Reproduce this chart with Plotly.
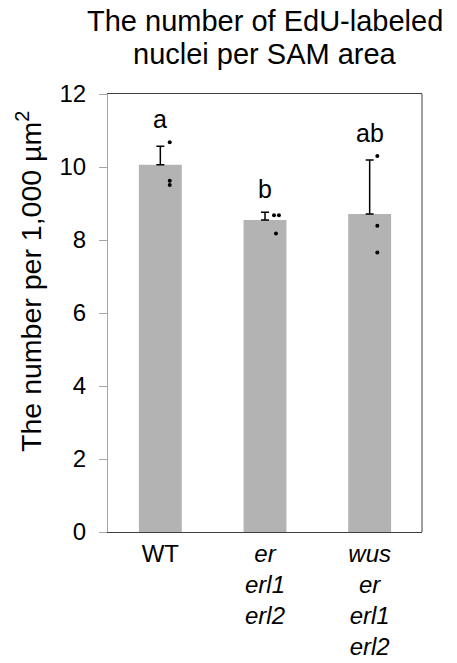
import plotly.graph_objects as go

categories = ["WT", "<i>er<br>erl1<br>erl2</i>", "<i>wus<br>er<br>erl1<br>erl2</i>"]
means = [10.06, 8.55, 8.71]
sd_upper = [0.51, 0.21, 1.48]
letters = ["a", "b", "ab"]
letter_y = [11.31, 9.39, 10.93]
dots = [[10.68, 9.62, 9.51], [8.68, 8.68, 8.18], [10.30, 8.39, 7.66]]
dot_jitter = [[0.09, 0.09, 0.09], [0.086, 0.133, 0.105], [0.073, 0.073, 0.073]]
yticks = [0, 2, 4, 6, 8, 10, 12]
title_lines = ["The number of EdU-labeled", "nuclei per SAM area"]
ytitle = "The number per 1,000 µm<sup>2</sup>"

FONT = "Liberation Sans, Arial, sans-serif"
xs = list(range(len(categories)))

fig = go.Figure()
fig.add_trace(go.Bar(
    x=xs, y=means, width=0.41, marker=dict(color="#b3b3b3", line=dict(width=0)),
    error_y=dict(type="data", symmetric=False, array=sd_upper,
                 arrayminus=[0] * len(means), color="#000000", thickness=1.5, width=4),
    showlegend=False, hoverinfo="skip"))

dx, dy = [], []
for i, (vals, jit) in enumerate(zip(dots, dot_jitter)):
    for v, j in zip(vals, jit):
        dx.append(i + j)
        dy.append(v)
fig.add_trace(go.Scatter(x=dx, y=dy, mode="markers",
                         marker=dict(color="#000000", size=4), showlegend=False))

for i, (t, ly) in enumerate(zip(letters, letter_y)):
    fig.add_annotation(x=i, y=ly, text=t, showarrow=False, yanchor="middle",
                       font=dict(family=FONT, size=25, color="#000000"))

# title as two lines (tighter line spacing than plotly's default)
for line, shift in zip(title_lines, [73, 40]):
    fig.add_annotation(xref="paper", yref="paper", x=0.5, y=1, yshift=shift,
                       xanchor="center", yanchor="middle", text=line, showarrow=False,
                       font=dict(family=FONT, size=29, color="#000000"))

# y-axis title
fig.add_annotation(xref="paper", yref="paper", x=0, y=0.571, xshift=-79,
                   xanchor="center", yanchor="middle", textangle=-90, text=ytitle,
                   showarrow=False, font=dict(family=FONT, size=28.5, color="#000000"))

fig.add_shape(type="line", xref="paper", yref="paper", x0=1, x1=1, y0=0, y1=1,
              line=dict(color="#404040", width=1))

fig.update_layout(
    width=441, height=655,
    margin=dict(l=100, r=27, t=86, b=131),
    paper_bgcolor="white", plot_bgcolor="white",
    font=dict(family=FONT, color="#000000"),
    xaxis=dict(range=[-0.5, 2.5], tickmode="array", tickvals=xs, ticktext=categories,
               showline=True, linecolor="#404040", linewidth=1, mirror=True,
               ticks="", showgrid=False, zeroline=False, automargin=False,
               tickfont=dict(family=FONT, size=24, color="#000000")),
    yaxis=dict(range=[0, 12], tickmode="array", tickvals=yticks,
               showline=True, linecolor="#a6a6a6", linewidth=1,
               ticks="outside", ticklen=8, tickcolor="#a6a6a6",
               ticklabelstandoff=8, automargin=False,
               showgrid=False, zeroline=False,
               tickfont=dict(family=FONT, size=24, color="#000000")),
)

fig.write_html("out.html")
